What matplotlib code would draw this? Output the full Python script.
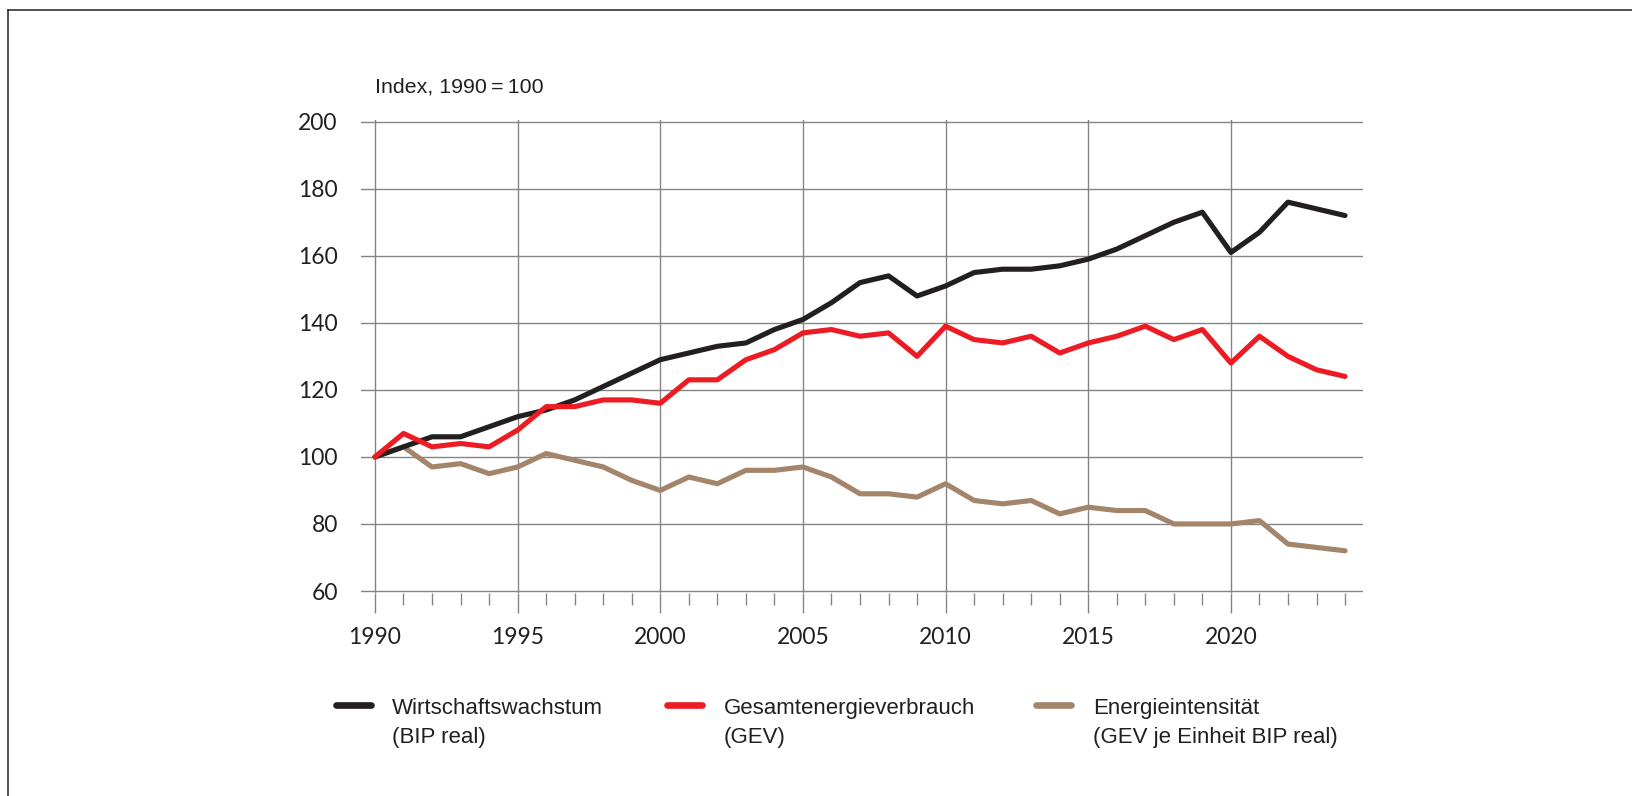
import matplotlib
matplotlib.use("Agg")
import matplotlib.pyplot as plt
from matplotlib.lines import Line2D
from matplotlib import font_manager as fm
from matplotlib.ticker import MultipleLocator, FixedLocator

# ---------------- data ----------------
years = list(range(1990, 2025))
bip_real = [100, 103, 106, 106, 109, 112, 114, 117, 121, 125, 129, 131, 133, 134, 138, 141, 146, 152,
            154, 148, 151, 155, 156, 156, 157, 159, 162, 166, 170, 173, 161, 167, 176, 174, 172]
gev = [100, 107, 103, 104, 103, 108, 115, 115, 117, 117, 116, 123, 123, 129, 132, 137, 138, 136,
       137, 130, 139, 135, 134, 136, 131, 134, 136, 139, 135, 138, 128, 136, 130, 126, 124]
intensitaet = [100, 103, 97, 98, 95, 97, 101, 99, 97, 93, 90, 94, 92, 96, 96, 97, 94, 89,
               89, 88, 92, 87, 86, 87, 83, 85, 84, 84, 80, 80, 80, 81, 74, 73, 72]

series_labels = [("Wirtschaftswachstum", "(BIP real)"),
                 ("Gesamtenergieverbrauch", "(GEV)"),
                 ("Energieintensität", "(GEV je Einheit BIP real)")]
y_ticks = [60, 80, 100, 120, 140, 160, 180, 200]
x_major = [1990, 1995, 2000, 2005, 2010, 2015, 2020]
title = "Index, 1990\u2009=\u2009100"

# ---------------- style ----------------
C_BLACK = "#231f20"
C_RED = "#ed1c24"
C_BROWN = "#a2856a"
C_GRID = "#858585"
C_TEXT = "#231f20"

names = {f.name for f in fm.fontManager.ttflist}
if "Liberation Sans Narrow" in names:
    TXT_FONT = ["Liberation Sans Narrow", "DejaVu Sans"]
    TXT_SIZE = 19
    TITLE_SIZE = 18.5
else:
    TXT_FONT = ["Liberation Sans", "DejaVu Sans"]
    TXT_SIZE = 16
    TITLE_SIZE = 15.4
NUM_FONT = ["Lato", "DejaVu Sans"]
NUM_SIZE = 16.5

W, H = 1632, 796
fig = plt.figure(figsize=(W / 100, H / 100), dpi=100)

def fx(px):
    return px / W

def fy(py):
    return 1 - py / H

# axes: x 1989.5 .. 2024.64 spans px 360.7 .. 1363.3 ; y 60..200 spans py 591..121.7
ppu = (591 - 121.7) / 140.0
ylo, yhi = 59.5, 200.5
ax_left, ax_right = 360.7, 1363.3
ax_top = 121.7 - (yhi - 200) * ppu
ax_bot = 591 + (60 - ylo) * ppu
ax = fig.add_axes([fx(ax_left), fy(ax_bot), (ax_right - ax_left) / W, (ax_bot - ax_top) / H])
ax.set_xlim(1989.5, 2024.64)
ax.set_ylim(ylo, yhi)
for s in ax.spines.values():
    s.set_visible(False)

ax.yaxis.set_major_locator(FixedLocator(y_ticks))
ax.xaxis.set_major_locator(FixedLocator(x_major))
ax.xaxis.set_minor_locator(MultipleLocator(1))
ax.grid(True, which="major", color=C_GRID, lw=1.0)
ax.set_axisbelow(True)

ax.tick_params(axis="y", length=0, pad=16.5, labelsize=NUM_SIZE, labelcolor=C_TEXT)
ax.tick_params(axis="x", which="major", direction="out", length=14.4, width=1.0, color=C_GRID,
               pad=10.5, labelsize=NUM_SIZE, labelcolor=C_TEXT)
ax.tick_params(axis="x", which="minor", direction="out", length=8.6, width=1.0, color=C_GRID)
ax.set_yticklabels([str(v) for v in y_ticks], fontfamily=NUM_FONT)
ax.set_xticklabels([str(v) for v in x_major], fontfamily=NUM_FONT)

lw = 3.7
ax.plot(years, intensitaet, color=C_BROWN, lw=lw, solid_joinstyle="round", solid_capstyle="round", zorder=3)
ax.plot(years, bip_real, color=C_BLACK, lw=lw, solid_joinstyle="round", solid_capstyle="round", zorder=4)
ax.plot(years, gev, color=C_RED, lw=lw, solid_joinstyle="round", solid_capstyle="round", zorder=5)

# title
fig.text(fx(375), fy(92.7), title, ha="left", va="baseline", fontsize=TITLE_SIZE,
         color=C_TEXT, family=TXT_FONT)

# legend (manual)
handles = [(333, 374, 391.7, C_BLACK), (664, 705, 724, C_RED), (1032.7, 1074, 1093.3, C_BROWN)]
for (x0, x1, xt, col), (l1, l2) in zip(handles, series_labels):
    fig.add_artist(Line2D([fx(x0 + 3), fx(x1 - 3)], [fy(705.3), fy(705.3)], transform=fig.transFigure,
                          color=col, lw=4.8, solid_capstyle="round"))
    fig.text(fx(xt), fy(714), l1, ha="left", va="baseline", fontsize=TXT_SIZE, color=C_TEXT, family=TXT_FONT)
    fig.text(fx(xt), fy(743), l2, ha="left", va="baseline", fontsize=TXT_SIZE, color=C_TEXT, family=TXT_FONT)

# frame (top and left)
fig.add_artist(Line2D([fx(8), 1.0], [fy(10), fy(10)], transform=fig.transFigure, color=C_BLACK, lw=1.1))
fig.add_artist(Line2D([fx(8), fx(8)], [fy(10), 0.0], transform=fig.transFigure, color=C_BLACK, lw=1.1))

fig.savefig("out.png", dpi=100, facecolor="white")
